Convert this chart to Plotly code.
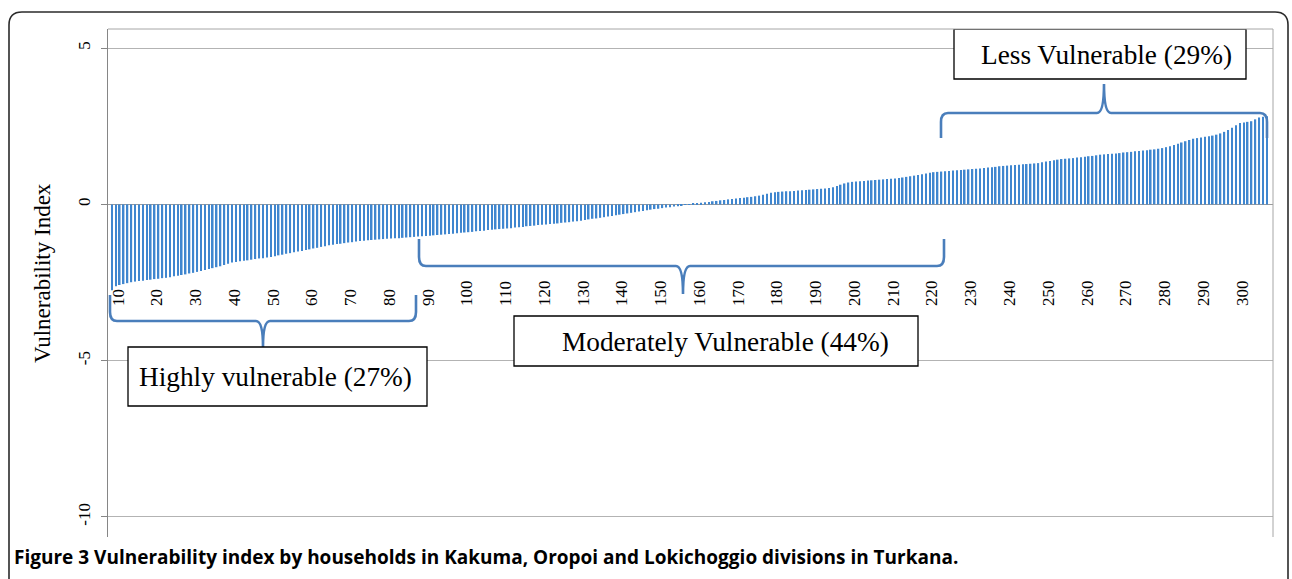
import plotly.graph_objects as go

# ---------------- data ----------------
VALUES = [
    -2.75, -2.62, -2.58, -2.55, -2.52, -2.49, -2.47, -2.45, -2.44, -2.42,
    -2.41, -2.39, -2.38, -2.36, -2.35, -2.33, -2.30, -2.28, -2.26, -2.24,
    -2.21, -2.19, -2.16, -2.13, -2.10, -2.07, -2.04, -2.01, -1.98, -1.94,
    -1.90, -1.86, -1.84, -1.82, -1.80, -1.79, -1.77, -1.75, -1.73, -1.72,
    -1.70, -1.68, -1.66, -1.63, -1.61, -1.58, -1.56, -1.53, -1.51, -1.49,
    -1.46, -1.44, -1.41, -1.39, -1.36, -1.34, -1.31, -1.29, -1.27, -1.26,
    -1.24, -1.22, -1.21, -1.19, -1.17, -1.16, -1.15, -1.14, -1.13, -1.12,
    -1.11, -1.10, -1.09, -1.08, -1.08, -1.07, -1.06, -1.05, -1.04, -1.03,
    -1.02, -1.01, -1.00, -0.99, -0.98, -0.97, -0.96, -0.95, -0.94, -0.92,
    -0.91, -0.90, -0.89, -0.88, -0.86, -0.85, -0.84, -0.82, -0.81, -0.80,
    -0.79, -0.78, -0.77, -0.76, -0.74, -0.73, -0.72, -0.70, -0.69, -0.68,
    -0.66, -0.65, -0.64, -0.63, -0.62, -0.61, -0.59, -0.58, -0.57, -0.55,
    -0.54, -0.52, -0.50, -0.48, -0.46, -0.45, -0.43, -0.41, -0.39, -0.37,
    -0.35, -0.33, -0.31, -0.29, -0.27, -0.25, -0.23, -0.21, -0.19, -0.17,
    -0.15, -0.14, -0.12, -0.10, -0.09, -0.07, -0.06, -0.04, -0.02, 0.01,
    0.02, 0.04, 0.05, 0.07, 0.08, 0.10, 0.11, 0.13, 0.14, 0.16,
    0.17, 0.19, 0.20, 0.21, 0.23, 0.24, 0.26, 0.28, 0.31, 0.34,
    0.37, 0.39, 0.40, 0.41, 0.42, 0.42, 0.43, 0.44, 0.45, 0.46,
    0.47, 0.48, 0.49, 0.50, 0.51, 0.52, 0.55, 0.59, 0.63, 0.67,
    0.70, 0.72, 0.73, 0.74, 0.75, 0.76, 0.77, 0.78, 0.79, 0.80,
    0.81, 0.82, 0.83, 0.84, 0.86, 0.88, 0.90, 0.92, 0.94, 0.96,
    0.99, 1.01, 1.03, 1.04, 1.05, 1.06, 1.07, 1.08, 1.09, 1.10,
    1.11, 1.12, 1.13, 1.14, 1.15, 1.16, 1.18, 1.19, 1.20, 1.22,
    1.23, 1.24, 1.25, 1.26, 1.27, 1.28, 1.29, 1.30, 1.31, 1.32,
    1.35, 1.37, 1.39, 1.41, 1.43, 1.45, 1.46, 1.47, 1.48, 1.50,
    1.51, 1.52, 1.54, 1.55, 1.57, 1.59, 1.60, 1.61, 1.62, 1.63,
    1.64, 1.66, 1.67, 1.68, 1.70, 1.71, 1.72, 1.73, 1.75, 1.76,
    1.78, 1.80, 1.83, 1.86, 1.90, 1.94, 1.98, 2.02, 2.06, 2.10,
    2.12, 2.14, 2.16, 2.18, 2.20, 2.23, 2.27, 2.32, 2.38, 2.45,
    2.53, 2.60, 2.62, 2.64, 2.66, 2.72, 2.78, 2.80, 2.82,
]
HOUSEHOLDS = list(range(1, len(VALUES) + 1))
TICK_LABELS = list(range(10, 301, 10))
Y_TICKS = [-10, -5, 0, 5]
Y_TICK_TEXT = ["-10", "-5", "0", "5"]
GROUP_LABELS = ["Highly vulnerable (27%)",
                "Moderately Vulnerable (44%)",
                "Less Vulnerable (29%)"]
Y_TITLE = "Vulnerability Index"
CAPTION = ("<b>Figure 3</b> <b>Vulnerability index by households in Kakuma, "
           "Oropoi and Lokichoggio divisions in Turkana.</b>")

# ---------------- geometry ----------------
W, H = 1292, 579
L, R, T, B = 108, 1273, 29, 537
XR = [-0.03, 300.54]
YR = [-10.64, 5.61]
LABEL_SHIFT = 7.45
SERIF = "Liberation Serif"
BLUE = "#4a7ebb"


def dx(px):
    return XR[0] + (px - L) / (R - L) * (XR[1] - XR[0])


def dy(py):
    return YR[1] - (py - T) / (B - T) * (YR[1] - YR[0])


def px_(px):
    return (px - L) / (R - L)


def py_(py):
    return (B - py) / (B - T)


def brace_path(x0, x1, yh, yend, xm, ytip, r=7, c=9):
    s = 1 if yh > yend else -1
    pts = [
        ("M", [(x0, yend)]),
        ("L", [(x0, yh - s * c)]),
        ("Q", [(x0, yh), (x0 + r, yh)]),
        ("L", [(xm - r, yh)]),
        ("Q", [(xm, yh), (xm, ytip)]),
        ("Q", [(xm, yh), (xm + r, yh)]),
        ("L", [(x1 - r, yh)]),
        ("Q", [(x1, yh), (x1, yh - s * c)]),
        ("L", [(x1, yend)]),
    ]
    out = []
    for cmd, pp in pts:
        out.append(cmd + " ".join(f"{dx(a):.3f},{dy(b):.3f}" for a, b in pp))
    return " ".join(out)


fig = go.Figure()
fig.add_trace(go.Bar(
    x=HOUSEHOLDS, y=VALUES,
    marker=dict(color="#3f86cf", line=dict(width=0)),
    hoverinfo="skip",
))

shapes = []
# braces
for (x0, x1, yh, yend, xm, ytip) in [
    (110, 416, 321, 295, 263, 347),
    (419, 944, 266, 239, 683, 294),
    (941, 1267, 113, 138, 1104, 84),
]:
    shapes.append(dict(type="path", xref="x", yref="y",
                       path=brace_path(x0, x1, yh, yend, xm, ytip),
                       line=dict(color=BLUE, width=2.6)))
# label boxes
boxes = [(128, 427, 347, 406), (514, 918, 316, 366), (954, 1246, 29, 79)]
for (a, b, c, d) in boxes:
    shapes.append(dict(type="rect", xref="x", yref="y",
                       x0=dx(a), x1=dx(b), y0=dy(c), y1=dy(d),
                       fillcolor="white", line=dict(color="black", width=1.3)))
# plot-area top & right border
shapes.append(dict(type="line", xref="paper", yref="paper",
                   x0=0, x1=1, y0=1, y1=1, line=dict(color="#a6a6a6", width=1)))
shapes.append(dict(type="line", xref="paper", yref="paper",
                   x0=1, x1=1, y0=0, y1=1, line=dict(color="#a6a6a6", width=1)))
# outer rounded frame
fx0, fx1, fy0, fyb, rad = 9, 1288, 12, 610, 13
frame = (f"M{px_(fx0)},{py_(fyb)} L{px_(fx0)},{py_(fy0 + rad)} "
         f"Q{px_(fx0)},{py_(fy0)} {px_(fx0 + rad)},{py_(fy0)} "
         f"L{px_(fx1 - rad)},{py_(fy0)} "
         f"Q{px_(fx1)},{py_(fy0)} {px_(fx1)},{py_(fy0 + rad)} "
         f"L{px_(fx1)},{py_(fyb)}")
shapes.append(dict(type="path", xref="paper", yref="paper", path=frame,
                   line=dict(color="#2b2b2b", width=1.6)))

annotations = []
text_centers = [(275, 377), (725, 342), (1106, 55)]
for txt, (cx, cy) in zip(GROUP_LABELS, text_centers):
    annotations.append(dict(text=txt, xref="x", yref="y", x=dx(cx), y=dy(cy),
                            showarrow=False, xanchor="center", yanchor="middle",
                            font=dict(family=SERIF, size=27.3, color="black")))
annotations.append(dict(text=Y_TITLE, xref="paper", yref="paper",
                        x=px_(42), y=py_(273), textangle=-90, showarrow=False,
                        xanchor="center", yanchor="middle",
                        font=dict(family=SERIF, size=23, color="black")))
annotations.append(dict(text=CAPTION, xref="paper", yref="paper",
                        x=px_(12), y=py_(557), showarrow=False,
                        xanchor="left", yanchor="middle",
                        font=dict(family="Open Sans", size=19, color="black")))

fig.update_layout(
    width=W, height=H,
    margin=dict(l=L, r=W - R, t=T, b=H - B, pad=0),
    paper_bgcolor="white", plot_bgcolor="white",
    showlegend=False, bargap=0.6,
    shapes=shapes, annotations=annotations,
    xaxis=dict(range=XR, side="top", anchor="free", position=py_(306),
               tickmode="array",
               tickvals=[v - LABEL_SHIFT for v in TICK_LABELS],
               ticktext=[str(v) for v in TICK_LABELS],
               tickangle=-90, ticks="", showline=False, showgrid=False,
               zeroline=False,
               tickfont=dict(family=SERIF, size=17, color="black")),
    yaxis=dict(range=YR, tickmode="array", tickvals=Y_TICKS,
               ticktext=Y_TICK_TEXT, tickangle=-90, ticks="outside",
               ticklen=6, tickcolor="#868686", ticklabelstandoff=4,
               showline=True, linecolor="#868686", linewidth=1,
               showgrid=True, gridcolor="#b3b3b3", gridwidth=1,
               zeroline=True, zerolinecolor="#9a9a9a", zerolinewidth=1,
               tickfont=dict(family=SERIF, size=17, color="black")),
)

fig.write_html("out.html", config={"displayModeBar": False},
               post_script="document.body.style.margin='0';document.body.style.overflow='hidden';")
